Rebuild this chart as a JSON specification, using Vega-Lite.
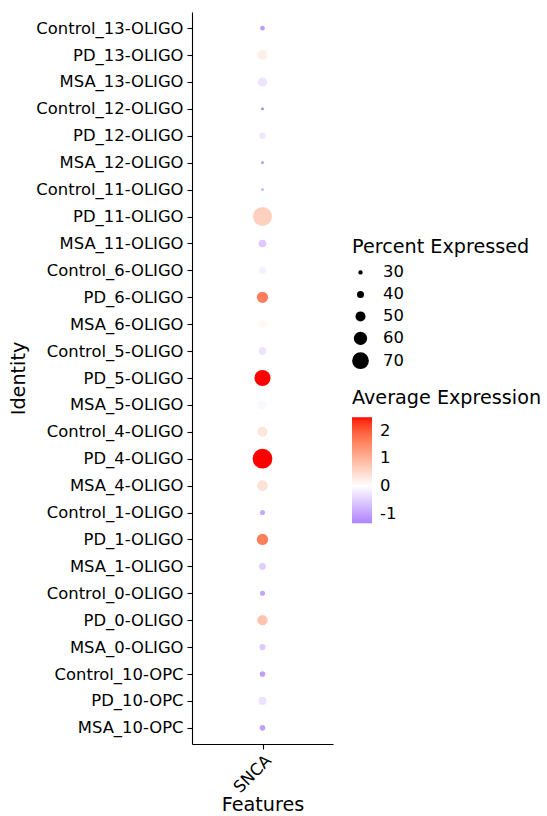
{
  "$schema": "https://vega.github.io/schema/vega-lite/v6.json",
  "autosize": "none",
  "padding": {"left": 192, "top": 12, "right": 214, "bottom": 72},
  "width": 141,
  "height": 732,
  "background": "white",
  "config": {
    "font": "DejaVu Sans",
    "view": {"stroke": null},
    "axis": {"grid": false, "domainColor": "black", "domainWidth": 1.1, "tickColor": "black", "tickWidth": 1.1, "tickSize": 5, "labelColor": "black", "titleColor": "black", "labelFontSize": 16.4, "titleFontSize": 19.2, "titleFontWeight": "normal"}
  },
  "data": {"values": [
    {"id": "Control_13-OLIGO", "features": "SNCA", "pct": 31, "avg": -1.1},
    {"id": "PD_13-OLIGO", "features": "SNCA", "pct": 50, "avg": 0.22},
    {"id": "MSA_13-OLIGO", "features": "SNCA", "pct": 47, "avg": -0.3},
    {"id": "Control_12-OLIGO", "features": "SNCA", "pct": 24, "avg": -1.35},
    {"id": "PD_12-OLIGO", "features": "SNCA", "pct": 38, "avg": -0.26},
    {"id": "MSA_12-OLIGO", "features": "SNCA", "pct": 24, "avg": -1.2},
    {"id": "Control_11-OLIGO", "features": "SNCA", "pct": 24, "avg": -0.9},
    {"id": "PD_11-OLIGO", "features": "SNCA", "pct": 76, "avg": 0.63},
    {"id": "MSA_11-OLIGO", "features": "SNCA", "pct": 42, "avg": -0.58},
    {"id": "Control_6-OLIGO", "features": "SNCA", "pct": 42, "avg": -0.15},
    {"id": "PD_6-OLIGO", "features": "SNCA", "pct": 54, "avg": 1.63},
    {"id": "MSA_6-OLIGO", "features": "SNCA", "pct": 44, "avg": 0.1},
    {"id": "Control_5-OLIGO", "features": "SNCA", "pct": 42, "avg": -0.31},
    {"id": "PD_5-OLIGO", "features": "SNCA", "pct": 68, "avg": 2.5},
    {"id": "MSA_5-OLIGO", "features": "SNCA", "pct": 44, "avg": -0.08},
    {"id": "Control_4-OLIGO", "features": "SNCA", "pct": 50, "avg": 0.35},
    {"id": "PD_4-OLIGO", "features": "SNCA", "pct": 78, "avg": 2.5},
    {"id": "MSA_4-OLIGO", "features": "SNCA", "pct": 52, "avg": 0.39},
    {"id": "Control_1-OLIGO", "features": "SNCA", "pct": 33, "avg": -0.93},
    {"id": "PD_1-OLIGO", "features": "SNCA", "pct": 54, "avg": 1.65},
    {"id": "MSA_1-OLIGO", "features": "SNCA", "pct": 39, "avg": -0.52},
    {"id": "Control_0-OLIGO", "features": "SNCA", "pct": 33, "avg": -0.97},
    {"id": "PD_0-OLIGO", "features": "SNCA", "pct": 51, "avg": 0.79},
    {"id": "MSA_0-OLIGO", "features": "SNCA", "pct": 37, "avg": -0.58},
    {"id": "Control_10-OPC", "features": "SNCA", "pct": 35, "avg": -1.04},
    {"id": "PD_10-OPC", "features": "SNCA", "pct": 44, "avg": -0.3},
    {"id": "MSA_10-OPC", "features": "SNCA", "pct": 35, "avg": -1.03}
  ]},
  "mark": {"type": "circle", "opacity": 1, "strokeWidth": 0},
  "encoding": {
    "x": {"field": "features", "type": "nominal", "scale": {"type": "point", "padding": 0.5},
      "axis": {"title": "Features", "labelAngle": -45, "labelAlign": "right", "labelBaseline": "top", "labelPadding": 3, "titlePadding": 0}},
    "y": {"field": "id", "type": "nominal",
      "sort": ["Control_13-OLIGO","PD_13-OLIGO","MSA_13-OLIGO","Control_12-OLIGO","PD_12-OLIGO","MSA_12-OLIGO","Control_11-OLIGO","PD_11-OLIGO","MSA_11-OLIGO","Control_6-OLIGO","PD_6-OLIGO","MSA_6-OLIGO","Control_5-OLIGO","PD_5-OLIGO","MSA_5-OLIGO","Control_4-OLIGO","PD_4-OLIGO","MSA_4-OLIGO","Control_1-OLIGO","PD_1-OLIGO","MSA_1-OLIGO","Control_0-OLIGO","PD_0-OLIGO","MSA_0-OLIGO","Control_10-OPC","PD_10-OPC","MSA_10-OPC"],
      "scale": {"type": "point", "padding": 0.6},
      "axis": {"title": "Identity", "labelPadding": 4, "titlePadding": 7}},
    "size": {"field": "pct", "type": "quantitative",
      "scale": {"type": "pow", "exponent": 3, "zero": false, "domain": [16.25, 78], "range": [0, 390]},
      "legend": {"title": "Percent Expressed", "orient": "none", "legendX": 160, "legendY": 226, "values": [30, 40, 50, 60, 70],
        "titleFontSize": 19.2, "titleFontWeight": "normal", "titleColor": "black", "titlePadding": 7, "titleLimit": 400,
        "labelFontSize": 16.4, "labelColor": "black", "labelOffset": 14,
        "symbolFillColor": "black", "symbolStrokeWidth": 0, "symbolOpacity": 1, "symbolType": "circle", "rowPadding": 5}},
    "color": {"field": "avg", "type": "quantitative",
      "scale": {"domain": [-1.35, 0, 2.5], "range": ["#ab82ff", "#ffffff", "#ff0000"], "interpolate": "lab"},
      "legend": {"title": "Average Expression", "orient": "none", "legendX": 160, "legendY": 377, "values": [-1, 0, 1, 2],
        "labelExpr": "toString(datum.value)",
        "direction": "vertical", "gradientLength": 106, "gradientThickness": 20, "gradientStrokeWidth": 0,
        "titleFontSize": 19.2, "titleFontWeight": "normal", "titleColor": "black", "titlePadding": 9, "titleLimit": 400,
        "labelFontSize": 16.4, "labelColor": "black", "labelOffset": 8}}
  }
}
